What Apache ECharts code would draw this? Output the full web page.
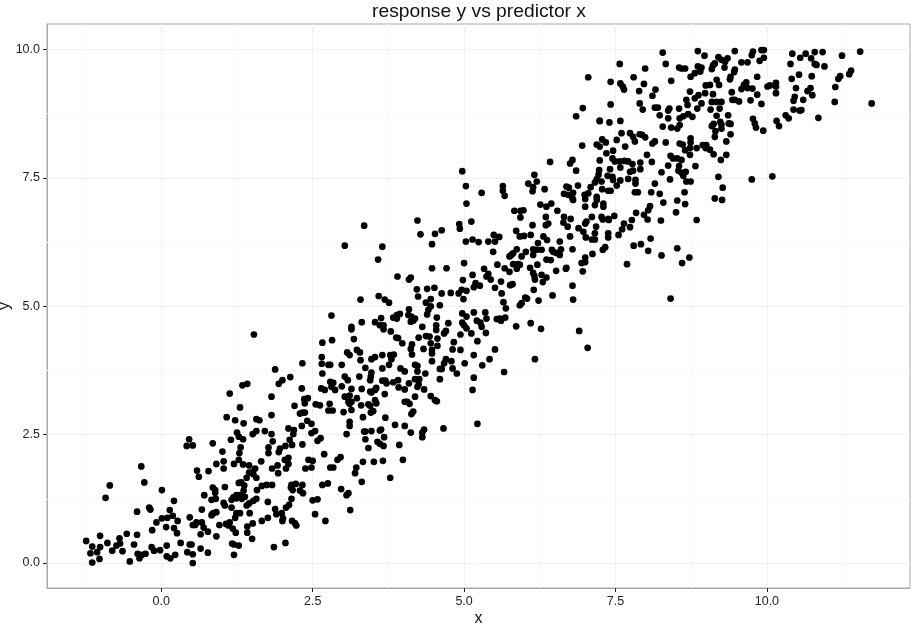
<!DOCTYPE html>
<html>
<head>
<meta charset="utf-8">
<script src="https://cdn.jsdelivr.net/npm/echarts@6/dist/echarts.min.js"></script>
<style>
  html, body { margin: 0; padding: 0; background: #fff; }
  #chart { width: 914px; height: 626px; }
</style>
</head>
<body>
<div id="chart"></div>
<script>
var titleText = 'response y vs predictor x'
var xName = 'x'
var yName = 'y'
var xTicks = [0, 2.5, 5, 7.5, 10]
var yTicks = [0, 2.5, 5, 7.5, 10]
var xMinor = [-1.25, 1.25, 3.75, 6.25, 8.75, 11.25]
var yMinor = [1.25, 3.75, 6.25, 8.75]

// points, lower left part
var lowerPoints = [
  [-1.24,.43],[-1.14,.32],[-1.17,.19],[-1.06,.21],[-1.01,.31],[-1.02,.08],[-1.14,.01],[-1.01,.53],[-.89,.39],[-.81,.24],
  [-.74,.34],[-.69,.48],[-.68,.38],[-.64,.23],[-.57,.57],[-.52,.03],[-.45,.36],[-.40,.55],[-.39,.18],[-.32,.16],
  [-.36,.09],[-.26,.18],[-.16,.31],[-.12,.24],[-.15,.64],[-.40,1.00],[-.20,1.08],[-.18,1.04],[-.08,.79],[.01,.87],
  [.10,.88],[.14,1.03],[.19,.92],[.21,1.21],[.27,.82],[.21,.68],[.08,.70],[.26,.58],[-.02,.25],[.09,.34],
  [.09,.13],[.15,.09],[.23,.16],[.32,.39],[.43,.21],[.47,.36],[.50,.36],[.52,.17],[.52,0],[.65,.28],
  [.77,.20],[.91,.52],[.65,.56],[.77,.61],[.70,.69],[.67,.79],[.58,.79],[.52,.74],[.56,.74],[.47,.89],
  [.67,1.04],[.83,1.23],[.90,1.25],[.71,1.32],[.85,1.47],[.89,1.42],[.89,1.37],[1.05,1.48],[.59,1.80],[.62,1.68],
  [.78,1.79],[.91,1.93],[1.03,1.98],[1.03,1.84],[1.01,2.17],[.85,2.33],[.42,2.28],[.46,2.41],[.52,2.29],[-.33,1.88],
  [-.28,1.57],[-.85,1.51],[-.92,1.27],[.01,1.42],[.83,.93],[.86,.97],[.91,.99],[.84,.95],[.96,.74],[1.07,.76],
  [1.13,.79],[1.11,.73],[1.18,.67],[1.23,.59],[1.16,1.08],[1.03,1.17],[1.05,1.12],[1.16,1.23],[1.19,1.28],[1.24,1.32],
  [1.30,1.32],[1.24,1.26],[1.33,1.25],[1.38,1.29],[1.41,1.12],[1.45,1.16],[1.52,1.21],[1.57,1.25],[1.58,1.42],[1.66,1.50],
  [1.74,1.52],[1.83,1.52],[1.76,1.19],[1.42,.71],[1.42,.59],[1.50,.47],[1.51,.77],[1.66,.82],[1.76,.88],[1.46,.97],
  [1.30,.97],[1.24,.97],[1.22,.88],[1.17,.38],[1.20,.36],[1.28,.34],[1.20,.16],[1.86,.31],[2.05,.39],[1.88,1.05],
  [1.90,.95],[1.99,.97],[2.01,.87],[2.00,.82],[2.16,.82],[2.21,.77],[2.23,.73],[2.06,1.08],[2.11,1.13],[2.15,1.25],
  [2.15,1.52],[2.14,1.47],[2.17,1.42],[2.22,1.54],[2.50,1.22],[2.58,1.24],[2.54,.95],[2.71,.82],[1.28,1.56],[1.32,1.57],
  [1.37,1.51],[1.36,1.41],[1.41,1.66],[1.45,1.76],[1.51,1.77],[1.55,1.84],[1.45,1.90],[1.35,1.92],[1.28,2.01],[1.20,1.93],
  [1.57,1.66],[1.52,1.73],[1.65,1.98],[1.83,1.84],[1.92,1.90],[1.93,1.75],[2.06,1.84],[2.10,1.93],[2.04,2.01],[2.10,2.05],
  [1.94,2.16],[1.77,2.14],[1.77,2.25],[1.84,2.37],[1.82,2.51],[1.71,2.57],[1.57,2.57],[1.51,2.51],[1.35,2.41],[1.28,2.46],
  [1.25,2.54],[1.15,2.40],[1.31,2.25],[1.29,2.14],[1.36,2.72],[1.22,2.78],[1.08,2.84],[1.30,3.03],[1.13,3.30],[1.34,3.46],
  [1.42,3.49],[1.53,4.45],[1.57,2.80],[1.62,2.78],[1.82,2.88],[1.82,3.24],[1.88,3.77],[1.94,3.49],[2.00,3.56],[2.13,3.62],
  [2.20,3.06],[2.10,2.62],[2.19,2.59],[2.18,2.51],[2.12,2.40],[2.16,2.30],[2.05,2.28],[1.96,2.23]
]

// middle of the cloud
var middlePoints = [
  [3.12,1.03],[2.33,1.52],[2.34,1.36],[2.29,1.41],[2.66,1.52],[2.75,1.55],[2.97,1.44],[3.09,1.36],[3.06,1.32],[3.31,1.58],
  [3.78,1.66],[3.20,1.75],[3.22,1.86],[2.79,1.86],[2.84,1.86],[2.38,1.84],[2.48,1.86],[2.43,2.01],[2.50,1.99],[2.69,2.12],
  [2.91,2.01],[2.96,2.06],[3.33,1.97],[3.51,1.97],[3.66,1.99],[3.99,2.01],[2.33,2.31],[2.58,2.38],[2.63,2.43],[2.48,2.53],
  [2.54,2.57],[2.32,2.67],[2.41,2.77],[2.48,2.71],[2.29,2.91],[2.37,2.93],[2.33,2.93],[2.64,3.40],[2.32,3.40],[2.36,3.19],
  [2.37,3.11],[2.42,3.21],[2.55,3.09],[2.62,3.07],[2.76,2.97],[2.83,2.97],[2.78,3.10],[3.01,2.94],[3.03,3.24],[3.11,3.26],
  [3.09,3.14],[3.14,3.14],[3.11,3.10],[3.14,2.98],[3.23,3.21],[3.30,3.07],[3.42,3.09],[3.45,3.06],[3.53,3.17],[3.55,3.11],
  [3.46,2.93],[3.50,2.96],[3.33,2.84],[3.70,2.83],[3.11,2.75],[3.11,2.67],[3.06,2.51],[3.35,2.56],[3.37,2.56],[3.37,2.41],
  [3.47,2.57],[3.61,2.58],[3.63,2.60],[3.68,2.45],[3.57,2.36],[3.61,2.32],[3.67,2.28],[3.42,2.24],[3.93,2.30],[3.86,2.69],
  [4.02,2.67],[4.12,2.54],[4.34,2.60],[4.31,2.54],[4.31,2.45],[4.66,2.62],[5.22,2.71],[4.13,2.90],[4.16,2.95],[4.02,3.14],
  [4.06,3.14],[4.10,3.10],[4.19,3.24],[4.55,3.15],[4.52,3.17],[4.45,3.25],[4.34,3.38],[3.69,3.29],[3.55,3.41],[3.53,3.37],
  [3.47,3.32],[3.45,3.34],[3.31,3.39],[3.14,3.39],[2.98,3.44],[2.87,3.37],[2.84,3.51],[2.79,3.53],[2.81,3.43],[2.70,3.37],
  [3.08,3.56],[3.03,3.63],[3.27,3.63],[3.45,3.56],[3.46,3.63],[3.47,3.71],[3.65,3.55],[3.70,3.55],[3.72,3.50],[3.83,3.52],
  [3.91,3.56],[3.92,3.42],[4.02,3.38],[4.09,3.50],[4.19,3.58],[4.26,3.58],[4.23,3.43],[4.25,3.48],[4.36,3.69],[4.60,3.58],
  [5.16,3.61],[5.14,3.37],[5.66,3.72],[4.88,3.69],[4.81,3.79],[4.63,3.78],[4.60,3.78],[4.67,3.89],[4.70,3.97],[4.79,3.93],
  [5.01,3.89],[5.30,3.85],[5.42,3.97],[5.16,4.05],[5.51,4.16],[6.17,3.97],[4.94,4.15],[4.81,4.16],[4.83,4.30],[5.22,4.32],
  [4.47,3.93],[4.47,4.08],[4.47,4.15],[4.33,4.17],[4.12,4.17],[4.14,4.26],[4.14,4.06],[4.19,3.86],[4.23,3.84],[4.23,3.73],
  [3.98,4.28],[3.88,4.39],[3.91,4.38],[3.76,3.86],[3.65,3.79],[3.95,3.79],[4.02,3.73],[3.37,3.80],[3.47,3.97],[3.53,4.01],
  [3.65,4.05],[3.78,4.05],[3.84,4.06],[3.80,3.97],[3.29,3.95],[3.23,4.15],[3.28,4.10],[3.07,4.10],[3.11,4.05],[2.98,3.86],
  [2.79,3.86],[2.76,3.86],[2.65,4.01],[2.65,3.88],[2.66,3.69],[2.33,3.89],[2.66,4.29],[2.82,4.34],[3.18,4.36],[2.81,4.82],
  [3.14,4.60],[3.14,4.55],[3.31,4.69],[3.53,4.69],[3.61,4.63],[3.67,4.63],[3.67,4.55],[3.63,4.77],[3.79,4.51],[3.29,5.13],
  [3.59,5.20],[3.69,5.13],[3.76,5.07],[3.83,4.78],[3.89,4.83],[3.94,4.85],[3.89,4.76],[4.09,4.94],[4.08,4.83],[4.13,4.80],
  [4.16,4.72],[4.12,4.70],[4.19,4.76],[4.31,4.60],[4.25,4.39],[4.37,4.42],[4.43,4.41],[4.45,4.28],[4.56,4.23],[4.56,4.37],
  [4.54,4.63],[4.54,4.54],[4.55,4.78],[4.39,4.84],[4.45,5.00],[4.41,4.93],[4.37,5.07],[4.45,5.14],[4.60,5.02],[4.74,4.67],
  [4.67,4.47],[4.70,4.52],[4.94,4.45],[5.12,4.47],[5.36,4.48],[4.97,4.86],[5.04,4.80],[5.16,4.88],[5.35,4.88],[5.37,4.76],
  [5.21,4.72],[5.27,4.68],[5.29,4.60],[4.97,4.68],[5.00,4.63],[5.04,4.57],[5.54,4.75],[5.59,4.76],[5.68,4.78],[5.61,4.72],
  [5.86,4.61],[6.10,4.67],[6.27,4.56],[6.90,4.52],[7.04,4.19],[5.69,4.96],[5.65,5.08],[5.92,5.02],[5.95,5.06],[6.01,5.17],
  [6.04,5.15],[6.23,5.11],[6.46,5.21],[6.80,5.13],[6.79,5.40],[6.15,5.32],[4.99,5.14],[4.22,5.33],[4.24,5.19],[4.39,5.34],
  [4.51,5.36],[4.63,5.25],[4.78,5.26],[4.91,5.25],[4.96,5.32],[5.04,5.30],[5.16,5.37],[5.19,5.45],[5.26,5.40],[5.51,5.36],
  [5.62,5.25],[5.61,5.48],[5.76,5.41],[5.80,5.43],[3.90,5.58],[4.09,5.52],[4.12,5.56],[4.47,5.74],[4.71,5.74],[4.98,5.51],
  [5.14,5.61],[5.33,5.73],[5.37,5.58],[5.40,5.63],[5.44,5.52],[5.00,5.84],[5.55,5.81],[5.67,5.74],[5.75,5.67],[5.81,5.82],
  [5.89,5.82],[5.87,5.73],[5.92,5.81],[6.09,5.75],[6.21,5.81],[6.14,5.65],[6.16,5.59],[6.17,5.52],[6.28,5.61],[6.36,5.56],
  [6.30,5.47],[6.52,5.69],[6.68,5.73],[6.69,5.75],[6.96,5.68],[6.94,5.84],[7.00,5.86],[7.00,5.95],[7.12,6.02],[6.79,6.11],
  [6.60,6.11],[6.58,6.26],[6.58,6.00],[6.52,6.04],[6.45,6.10],[6.47,6.06],[6.36,5.91],[6.43,5.90],[6.28,6.10],[6.20,6.10],
  [6.14,6.11],[6.22,6.23],[6.14,6.00],[6.02,6.06],[5.95,5.97],[5.75,5.97],[5.81,6.03],[5.87,6.11],[5.78,6.00],[5.48,6.06],
  [5.40,6.26],[5.51,6.26],[5.49,6.39],[5.58,6.35],[5.03,6.26],[5.14,6.30],[5.24,6.25],[4.47,6.21],[4.28,6.40],[4.52,6.41],
  [4.63,6.48],[4.92,6.60],[4.93,6.51],[5.12,6.65],[4.23,6.67],[3.35,6.57],[3.03,6.18],[3.65,6.16],[3.58,5.91],[5.04,7.00],
  [5.86,6.47],[5.92,6.36],[5.99,6.37],[6.10,6.39],[5.83,6.86],[5.93,6.86],[5.98,6.87],[5.93,6.73],[6.13,6.58],[6.35,6.74],
  [6.39,6.61],[6.35,6.58],[6.31,6.36],[6.37,6.29],[6.54,6.86],[6.26,6.98],[6.36,6.94],[6.44,7.00],[6.65,6.74],[6.64,6.63],
  [6.71,6.55],[6.76,6.70],[6.75,6.36],[6.89,6.52],[7.00,6.61],[7.02,6.65],[6.97,6.45],[7.01,6.34],[7.11,6.74],[7.00,6.94],
  [7.16,6.97],[7.19,7.07],[7.18,6.55],[7.16,6.42],[7.11,6.30],[7.16,6.30],[6.80,7.07]
]

// upper right part
var upperPoints = [
  [6.85,8.70],[6.42,7.81],[6.79,7.85],[6.75,7.78],[6.85,7.64],[4.97,7.63],[5.03,7.34],[5.29,7.21],[5.64,7.34],[5.64,7.25],
  [5.67,7.15],[6.16,7.56],[6.06,7.39],[6.20,7.43],[6.14,7.32],[6.13,7.24],[6.33,7.28],[6.69,7.33],[6.73,7.31],[6.65,7.19],
  [6.72,7.17],[6.80,7.21],[6.79,7.10],[6.88,7.35],[8.28,9.94],[8.86,9.97],[8.97,9.88],[9.47,9.97],[9.20,9.85],[9.25,9.80],
  [9.31,9.76],[9.35,9.83],[9.14,9.73],[9.11,9.69],[9.09,9.62],[9.30,9.65],[9.75,9.89],[9.77,9.96],[9.91,9.99],[9.95,9.99],
  [9.88,9.78],[9.95,9.84],[9.58,9.75],[9.68,9.75],[9.47,9.61],[9.46,9.56],[9.40,9.47],[9.39,9.42],[9.84,9.47],[10.42,9.92],
  [10.39,9.72],[10.55,9.84],[10.64,9.92],[10.73,9.83],[10.79,9.95],[10.92,9.95],[10.79,9.72],[10.82,9.70],[10.95,9.67],[11.24,9.88],
  [11.54,9.96],[10.41,9.43],[10.53,9.51],[10.74,9.48],[10.48,9.25],[10.72,9.25],[10.67,9.19],[10.75,9.11],[10.60,9.02],[10.46,9.08],
  [10.44,9.00],[10.44,8.83],[10.54,8.81],[10.57,8.82],[10.31,8.72],[10.36,8.66],[10.85,8.67],[10.16,8.61],[10.20,8.51],[11.12,8.98],
  [11.13,9.27],[11.18,9.43],[11.21,9.48],[11.36,9.52],[11.39,9.59],[11.73,8.95],[10.15,9.35],[10.15,9.28],[10.15,9.15],[10.05,9.30],
  [10.01,9.28],[9.84,9.12],[9.91,8.94],[9.73,9.01],[9.77,8.65],[9.80,8.56],[9.82,8.48],[9.94,8.42],[9.66,9.36],[9.62,9.31],
  [9.58,9.23],[9.68,9.25],[9.76,9.24],[9.42,9.17],[9.43,9.02],[9.47,9.02],[9.54,8.99],[9.36,8.72],[9.37,8.56],[9.40,8.55],
  [9.40,8.35],[9.33,8.21],[9.33,7.95],[9.24,7.85],[9.12,7.96],[9.06,8.05],[8.99,8.08],[9.00,8.14],[8.94,8.14],[8.84,8.08],
  [8.74,8.27],[8.74,8.19],[8.73,8.08],[8.65,8.04],[8.73,7.95],[8.56,8.17],[8.61,8.15],[8.33,8.19],[8.15,8.21],[8.11,8.17],
  [8.02,7.95],[8.10,7.81],[7.91,7.80],[7.91,7.67],[8.41,7.93],[8.45,7.88],[8.52,7.88],[8.59,7.85],[8.37,7.74],[8.55,7.73],
  [8.54,7.64],[8.59,7.60],[8.66,7.62],[8.62,7.54],[8.82,7.73],[8.26,7.61],[8.40,7.47],[8.15,7.39],[8.67,7.43],[8.74,7.43],
  [8.09,7.22],[8.23,7.19],[8.64,7.22],[8.52,7.06],[8.65,6.99],[8.29,7.02],[9.20,7.52],[9.27,7.31],[9.14,7.10],[9.26,7.07],
  [9.75,7.47],[10.09,7.53],[8.28,8.50],[8.42,8.48],[8.52,8.46],[8.56,8.53],[8.37,8.66],[8.56,8.66],[8.62,8.70],[8.70,8.74],
  [8.77,8.69],[8.39,8.85],[8.37,8.81],[8.55,8.85],[8.23,8.72],[8.15,8.87],[8.20,8.87],[7.95,8.83],[7.90,8.95],[7.42,8.93],
  [7.58,8.61],[7.40,8.58],[7.24,8.61],[7.60,8.37],[7.74,8.37],[7.79,8.30],[7.82,8.21],[7.90,8.35],[7.94,8.34],[7.99,8.29],
  [7.52,8.24],[7.66,8.11],[7.28,8.25],[7.19,8.15],[7.24,8.11],[7.34,8.19],[7.46,8.03],[7.35,7.98],[7.45,7.88],[7.49,7.82],
  [7.57,7.82],[7.65,7.83],[7.71,7.82],[7.78,7.77],[7.58,7.70],[7.24,7.84],[7.23,7.65],[7.41,7.67],[7.74,7.62],[7.79,7.64],
  [7.37,7.54],[7.45,7.52],[7.46,7.46],[7.58,7.45],[7.71,7.48],[7.83,7.46],[7.83,7.39],[7.22,7.56],[7.19,7.47],[7.27,7.43],
  [7.16,7.41],[7.09,7.32],[7.28,7.28],[7.38,7.25],[7.42,7.25],[7.52,7.35],[7.82,7.22],[7.87,7.22],[6.99,7.17],[7.05,7.20],
  [7.00,7.09],[7.19,7.13],[7.30,7.00],[7.30,6.94],[7.48,6.76],[7.38,6.70],[7.39,6.68],[7.27,6.74],[7.29,6.69],[7.84,6.82],
  [7.97,6.78],[8.03,6.69],[7.77,6.68],[8.07,6.95],[8.04,6.87],[8.25,6.67],[8.50,6.83],[8.84,6.68],[7.64,6.61],[7.61,6.50],
  [7.74,6.54],[7.38,6.42],[7.38,6.34],[7.55,6.39],[7.33,6.15],[7.29,6.10],[7.80,6.18],[7.92,6.21],[8.08,6.32],[8.04,6.08],
  [8.26,5.99],[8.52,6.13],[8.72,5.95],[8.60,5.84],[7.69,5.82],[8.41,5.15],[7.05,9.46],[7.57,9.72],[7.42,9.37],[7.80,9.46],
  [7.99,9.63],[7.97,9.33],[7.58,9.34],[7.62,9.28],[7.64,9.22],[7.89,9.19],[8.16,9.22],[8.11,9.10],[8.33,9.72],[8.42,9.39],
  [8.55,9.65],[8.59,9.63],[8.65,9.63],[8.74,9.47],[8.81,9.54],[8.86,9.67],[8.92,9.65],[8.90,9.57],[9.17,9.41],[9.21,9.31],
  [8.99,9.30],[9.06,9.31],[8.73,9.18],[8.81,9.05],[8.87,9.11],[8.98,9.15],[9.11,9.13],[8.67,9.02],[8.69,8.92],[8.92,8.95],
  [8.85,8.85],[9.09,8.98],[9.17,8.98],[9.25,8.98],[9.07,8.83],[9.22,8.85],[9.17,8.71],[9.09,8.51],[9.12,8.55],[9.23,8.59],
  [9.25,8.54],[9.25,8.46],[9.15,8.41],[9.14,8.30],[6.95,8.13],[6.96,8.86],[7.24,8.61]
]

var chart = echarts.init(document.getElementById('chart'), null, { renderer: 'canvas' })
var fontName = '"Liberation Sans", Arial, sans-serif'

function vLines (list, key, color) {
  return list.map(function (v) {
    var d = {}
    d[key] = v
    d.lineStyle = { color: color, width: 1, type: 'solid' }
    return d
  })
}

function axisBits () {
  return {
    axisLine: { show: true, onZero: false, lineStyle: { color: '#a8a8a8', width: 1 } },
    axisTick: { show: true, length: 4, lineStyle: { color: '#222222', width: 1 } },
    splitLine: { show: false }
  }
}

var xAxis = Object.assign(axisBits(), {
  type: 'value', min: -1.887, max: 12.363, name: xName, nameLocation: 'middle', nameGap: 23,
  nameMoveOverlap: false,
  nameTextStyle: { color: '#111', fontSize: 16, fontFamily: fontName },
  axisLabel: { color: '#222', fontSize: 12.5, fontFamily: fontName, margin: 7, customValues: xTicks,
    formatter: function (v) { return v.toFixed(1) } }
})
xAxis.axisTick.customValues = xTicks

var yAxis = Object.assign(axisBits(), {
  type: 'value', min: -0.487, max: 10.497, name: yName, nameLocation: 'middle', nameGap: 34,
  nameMoveOverlap: false,
  nameTextStyle: { color: '#111', fontSize: 16, fontFamily: fontName },
  axisLabel: { color: '#222', fontSize: 12.5, fontFamily: fontName, margin: 7, customValues: yTicks,
    formatter: function (v) { return v.toFixed(1) } }
})
yAxis.axisTick.customValues = yTicks

chart.setOption({
  animation: false,
  backgroundColor: '#ffffff',
  title: {
    text: titleText, left: 474, top: -3, textAlign: 'center',
    textStyle: { color: '#111', fontSize: 19.25, fontWeight: 'normal', fontFamily: fontName }
  },
  grid: {
    left: 47, top: 24, width: 863, height: 564, outerBoundsMode: 'none',
    show: true, borderColor: '#a8a8a8', borderWidth: 1, backgroundColor: '#fff'
  },
  xAxis: xAxis,
  yAxis: yAxis,
  series: [{
    type: 'scatter',
    symbolSize: 6.7,
    itemStyle: { color: '#000', opacity: 1 },
    data: lowerPoints.concat(middlePoints, upperPoints),
    z: 5,
    markLine: {
      silent: true, symbol: 'none', label: { show: false }, animation: false, z: 1,
      data: vLines(xMinor, 'xAxis', '#f8f8f8').concat(vLines(yMinor, 'yAxis', '#f8f8f8'),
        vLines(xTicks, 'xAxis', '#f0f0f0'), vLines(yTicks, 'yAxis', '#f0f0f0'))
    }
  }]
})
</script>
</body>
</html>
